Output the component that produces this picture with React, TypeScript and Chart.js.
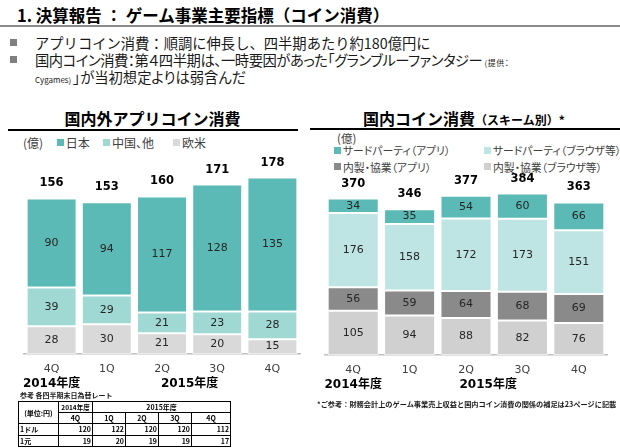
import React, { useEffect, useRef } from 'react';
import { Chart, registerables } from 'chart.js';

Chart.register(...registerables);

// ---- data ----
const quarters = ['4Q', '1Q', '2Q', '3Q', '4Q'];
const fiscalGroups = ['2014年度', '2015年度'];

const appJapan = [90, 94, 117, 128, 135];
const appChina = [39, 29, 21, 23, 28];
const appWest = [28, 30, 21, 20, 15];
const appTotals = [156, 153, 160, 171, 178];

const thirdPartyApp = [34, 35, 54, 60, 66];
const thirdPartyBrowser = [176, 158, 172, 173, 151];
const inHouseApp = [56, 59, 64, 68, 69];
const inHouseBrowser = [105, 94, 88, 82, 76];
const domesticTotals = [370, 346, 377, 384, 363];

const rateQuarters = ['4Q', '1Q', '2Q', '3Q', '4Q'];
const usdRates = [120, 122, 120, 120, 112];
const cnyRates = [19, 20, 19, 19, 17];

// ---- colours ----
const TEAL = '#5bbab5';
const TEAL_LIGHT = '#a0d8d4';
const TEAL_PALE = '#bee5e3';
const GRAY_DARK = '#8a8a8a';
const GRAY_LIGHT = '#d0d0d0';
const GRAY_PALE = '#d9d9d9';

const JP = "'Noto Sans CJK JP', sans-serif";
const NUM = "'DejaVu Sans', 'Noto Sans CJK JP', sans-serif";

const labelPlugin = {
  id: 'stackLabels',
  afterDatasetsDraw(chart: any, _args: any, opts: any) {
    const { ctx, chartArea } = chart;
    const n = chart.data.datasets.length;
    ctx.save();
    ctx.textAlign = 'center';
    ctx.textBaseline = 'middle';
    ctx.font = `11px ${NUM}`;
    ctx.fillStyle = '#262626';
    chart.data.datasets.forEach((ds: any, di: number) => {
      const meta = chart.getDatasetMeta(di);
      meta.data.forEach((el: any, i: number) => {
        ctx.fillText(String(ds.data[i]), el.x, (el.y + el.base) / 2);
      });
    });
    const topMeta = chart.getDatasetMeta(n - 1);
    ctx.font = `bold 11.5px ${NUM}`;
    ctx.fillStyle = '#000';
    (opts.totals || []).forEach((t: number, i: number) => {
      const el: any = topMeta.data[i];
      ctx.fillText(String(t), el.x, el.y - 15);
    });
    const xs = chart.scales.x;
    ctx.font = `bold 12px ${NUM}`;
    ctx.fillStyle = '#000';
    const gy = chartArea.bottom + 30;
    ctx.fillText(opts.groups[0], xs.getPixelForValue(0), gy);
    const mid = (xs.getPixelForValue(1) + xs.getPixelForValue(4)) / 2;
    ctx.fillText(opts.groups[1], mid + (opts.shift || 0), gy);
    ctx.restore();
  },
};

function makeChart(canvas: HTMLCanvasElement, datasets: any[], totals: number[], yMax: number, padding: any, shift: number) {
  return new Chart(canvas, {
    type: 'bar',
    data: {
      labels: quarters,
      datasets: datasets.map((d) => ({
        ...d,
        borderColor: 'rgba(255,255,255,0.7)',
        borderWidth: 1,
        borderSkipped: false,
        barPercentage: 0.905,
        categoryPercentage: 1,
      })),
    },
    options: {
      animation: false,
      responsive: false,
      maintainAspectRatio: false,
      layout: { padding },
      plugins: {
        legend: { display: false },
        tooltip: { enabled: false },
        stackLabels: { totals, groups: fiscalGroups, shift },
      } as any,
      scales: {
        x: {
          stacked: true,
          grid: { display: false, drawTicks: false },
          border: { display: true, color: '#bfbfbf', width: 1.5 },
          ticks: { padding: 9, color: '#404040', font: { size: 11, family: NUM } },
        },
        y: { stacked: true, display: false, min: 0, max: yMax },
      },
    },
    plugins: [labelPlugin],
  });
}

const abs = (left: number, top: number, extra: any = {}) => ({ position: 'absolute' as const, left, top, ...extra });

function LegendItem({ x, y, color, text, size = 12 }: any) {
  return (
    <>
      <div style={abs(x, y - 3.5, { width: 7, height: 7, background: color })} />
      <div style={abs(x + 9, y - 9, { fontSize: size, lineHeight: '18px', color: '#404040', whiteSpace: 'nowrap', fontFeatureSettings: '"palt"' })}>{text}</div>
    </>
  );
}

export default function App() {
  const leftRef = useRef<HTMLCanvasElement>(null);
  const rightRef = useRef<HTMLCanvasElement>(null);

  useEffect(() => {
    const c1 = makeChart(
      leftRef.current!,
      [
        { label: '欧米', data: appWest, backgroundColor: GRAY_PALE },
        { label: '中国、他', data: appChina, backgroundColor: TEAL_LIGHT },
        { label: '日本', data: appJapan, backgroundColor: TEAL },
      ],
      appTotals,
      190,
      { left: 24, right: 10, top: 15.7, bottom: 14.8 },
      0
    );
    const c2 = makeChart(
      rightRef.current!,
      [
        { label: '内製・協業（ブラウザ等）', data: inHouseBrowser, backgroundColor: GRAY_LIGHT },
        { label: '内製・協業（アプリ）', data: inHouseApp, backgroundColor: GRAY_DARK },
        { label: 'サードパーティ（ブラウザ等）', data: thirdPartyBrowser, backgroundColor: TEAL_PALE },
        { label: 'サードパーティ（アプリ）', data: thirdPartyApp, backgroundColor: TEAL },
      ],
      domesticTotals,
      400,
      { left: 15, right: 13, top: 16.4, bottom: 13.8 },
      -6
    );
    return () => {
      c1.destroy();
      c2.destroy();
    };
  }, []);

  const tdBase: any = { border: '1px solid #000', padding: '0 1px', height: 10, lineHeight: '10px', whiteSpace: 'nowrap', overflow: 'hidden' };

  return (
    <div style={{ position: 'absolute', left: 0, top: 0, width: 620, height: 448, overflow: 'hidden', background: '#fff', fontFamily: JP, color: '#1a1a1a' }}>
      {/* title */}
      <div style={abs(17, 3, { fontSize: 16.5, fontWeight: 700, lineHeight: '24px', color: '#000', whiteSpace: 'nowrap' })}>
        1. 決算報告 ： ゲーム事業主要指標（コイン消費）
      </div>
      <div style={abs(0, 25, { width: 620, height: 1.5, background: '#8c8c8c' })} />

      {/* bullets */}
      <div style={abs(10, 39, { width: 7, height: 7, background: '#7f7f7f' })} />
      <div style={abs(10, 56, { width: 7, height: 7, background: '#7f7f7f' })} />
      <div style={abs(35, 33.5, { fontSize: 14.3, lineHeight: '18px', whiteSpace: 'nowrap' })}>
        アプリコイン消費：順調に伸長し、四半期あたり約180億円に
      </div>
      <div style={abs(35, 50.5, { fontSize: 14.3, lineHeight: '18px', whiteSpace: 'nowrap', fontFeatureSettings: '"palt"', letterSpacing: '-0.45px' })}>
        国内コイン消費：第４四半期は、一時要因があった「グランブルーファンタジー<span style={{ fontSize: 8, letterSpacing: '0.5px' }}>  (提供：</span>
      </div>
      <div style={abs(35, 68, { fontSize: 14.3, lineHeight: '18px', whiteSpace: 'nowrap', fontFeatureSettings: '"palt"' })}>
        <span style={{ fontSize: 8 }}>Cygames) </span>」が当初想定よりは弱含んだ
      </div>

      {/* chart titles */}
      <div style={abs(0, 107, { width: 305, textAlign: 'center', fontSize: 16, fontWeight: 700, lineHeight: '22px', color: '#000' })}>
        国内外アプリコイン消費
      </div>
      <div style={abs(8, 128.5, { width: 290, height: 2, background: '#000' })} />
      <div style={abs(363, 107, { fontSize: 16, fontWeight: 700, lineHeight: '22px', color: '#000', whiteSpace: 'nowrap' })}>
        国内コイン消費<span style={{ fontSize: 12 }}>（スキーム別）*</span>
      </div>
      <div style={abs(310, 128, { width: 310, height: 2, background: '#000' })} />

      {/* left legend */}
      <div style={abs(23, 134, { fontSize: 12, lineHeight: '18px', color: '#404040' })}>(億)</div>
      <LegendItem x={56.7} y={142.7} color={TEAL} text="日本" />
      <LegendItem x={103} y={142.7} color={TEAL_LIGHT} text="中国、他" />
      <LegendItem x={173} y={142.7} color={GRAY_PALE} text="欧米" />

      {/* right legend */}
      <div style={abs(337, 129, { fontSize: 11.5, lineHeight: '18px', color: '#404040' })}>(億)</div>
      <LegendItem x={334} y={150} color={TEAL} text="サードパーティ（アプリ）" size={10.8} />
      <LegendItem x={484} y={150} color={TEAL_PALE} text="サードパーティ（ブラウザ等）" size={10.8} />
      <LegendItem x={334} y={166.7} color={GRAY_DARK} text="内製・協業（アプリ）" size={10.8} />
      <LegendItem x={484} y={166.7} color={GRAY_LIGHT} text="内製・協業（ブラウザ等）" size={10.8} />

      {/* charts */}
      <canvas ref={leftRef} width={310} height={250} style={abs(0, 150, { width: 310, height: 250 })} />
      <canvas ref={rightRef} width={310} height={230} style={abs(310, 170, { width: 310, height: 230 })} />

      {/* footnote */}
      <div style={abs(317, 399, { fontSize: 7.2, fontWeight: 700, lineHeight: '10px', whiteSpace: 'nowrap' })}>
        *ご参考：財務会計上のゲーム事業売上収益と国内コイン消費の関係の補足は23ページに記載
      </div>

      {/* rate table */}
      <div style={abs(20, 390, { fontSize: 7, fontWeight: 700, lineHeight: '10px', whiteSpace: 'nowrap' })}>参考 各四半期末日為替レート</div>
      <table style={abs(18, 401, { borderCollapse: 'collapse', tableLayout: 'fixed', width: 212, fontSize: 7, fontWeight: 700, color: '#000' })}>
        <colgroup>
          <col style={{ width: 40 }} />
          <col style={{ width: 34 }} />
          <col style={{ width: 33 }} />
          <col style={{ width: 33 }} />
          <col style={{ width: 33 }} />
          <col style={{ width: 39 }} />
        </colgroup>
        <tbody>
          <tr>
            <td rowSpan={2} style={{ ...tdBase, textAlign: 'center' }}>(単位:円)</td>
            <td style={{ ...tdBase, textAlign: 'center', fontSize: 6.5, padding: 0 }}>{fiscalGroups[0]}</td>
            <td colSpan={4} style={{ ...tdBase, textAlign: 'center' }}>{fiscalGroups[1]}</td>
          </tr>
          <tr>
            {rateQuarters.map((q, i) => (
              <td key={i} style={{ ...tdBase, textAlign: 'center' }}>{q}</td>
            ))}
          </tr>
          <tr>
            <td style={{ ...tdBase, textAlign: 'left', height: 10.5 }}>1ドル</td>
            {usdRates.map((v, i) => (
              <td key={i} style={{ ...tdBase, textAlign: 'right', height: 10.5 }}>{v}</td>
            ))}
          </tr>
          <tr>
            <td style={{ ...tdBase, textAlign: 'left', height: 10.5 }}>1元</td>
            {cnyRates.map((v, i) => (
              <td key={i} style={{ ...tdBase, textAlign: 'right', height: 10.5 }}>{v}</td>
            ))}
          </tr>
        </tbody>
      </table>
    </div>
  );
}
